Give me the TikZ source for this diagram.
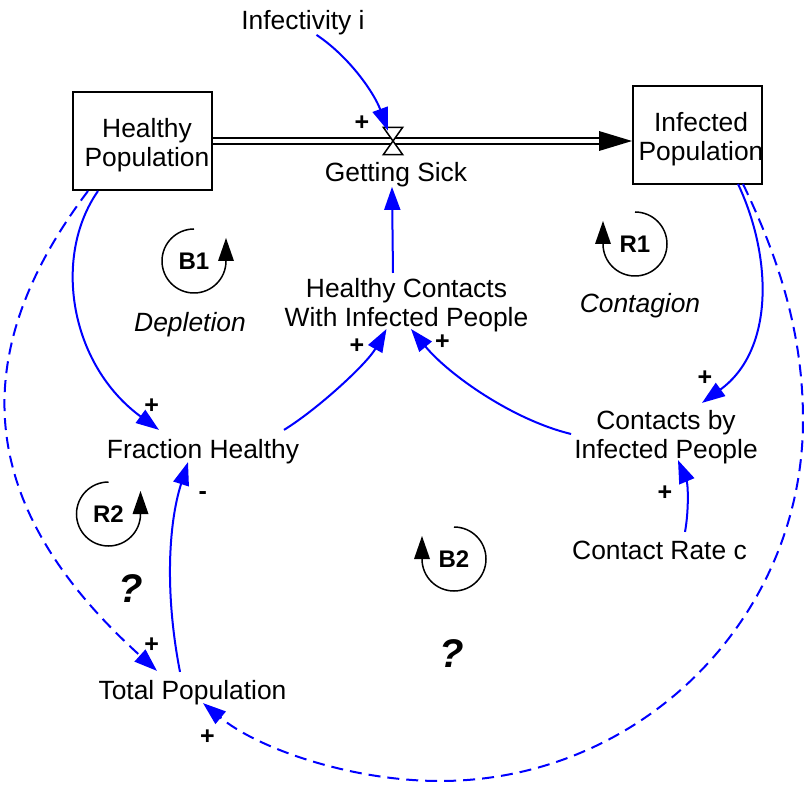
\documentclass[tikz,border=0pt]{standalone}
\usepackage{fontspec}
\setmainfont{Liberation Sans}
\usetikzlibrary{arrows.meta}

% loop marker turning counter-clockwise, arrow on the right side
\newcommand{\loopmarkccw}[1]{%
  \draw[loopline] ([yshift=32pt]#1.center) arc[start angle=90,end angle=360,radius=32pt];
  \fill ([xshift=24pt]#1.center) -- ([xshift=32pt,yshift=23pt]#1.center) -- ([xshift=40pt]#1.center) -- cycle;}
% loop marker turning clockwise, arrow on the left side
\newcommand{\loopmarkcw}[1]{%
  \draw[loopline] ([yshift=32pt]#1.center) arc[start angle=90,end angle=-180,radius=32pt];
  \fill ([xshift=-40pt]#1.center) -- ([xshift=-32pt,yshift=23pt]#1.center) -- ([xshift=-24pt]#1.center) -- cycle;}

\begin{document}
\begin{tikzpicture}[x=1pt,y=1pt,
  every node/.style={inner sep=0pt},
  var/.style={font=\fontsize{26.4}{29}\selectfont, align=center},
  onel/.style={var, text height=19.3pt, text depth=5.5pt},
  stock/.style={draw, line width=2pt},
  link/.style={draw=blue, line width=2pt, -{Triangle[length=23pt,width=16pt]}},
  dashedlink/.style={link, dash pattern=on 12pt off 7pt},
  polarity/.style={font=\fontsize{25}{28}\selectfont\bfseries},
  looplabel/.style={font=\fontsize{24}{26}\selectfont\bfseries},
  loopline/.style={draw=black, line width=1.5pt},
  loopname/.style={font=\fontsize{26.4}{29}\selectfont\itshape, text height=19.3pt, text depth=5.5pt},
  query/.style={font=\fontsize{40}{44}\selectfont\bfseries\itshape},
  pipe/.style={double, line width=2pt, double distance=4.3pt},
  valveline/.style={draw=black, line width=1.5pt, fill=white},
]
\useasboundingbox (0,0) rectangle (804,-786);

% stocks
\node[stock, minimum width=139pt, minimum height=98pt] (hp) at (142.5,-141) {};
\node[var] (hptext) at ([shift={(4.5,-4)}]hp.center) {Healthy\\Population};
\node[stock, minimum width=129pt, minimum height=98pt] (ip) at (697.5,-135) {};
\node[var] (iptext) at ([shift={(3.5,-4)}]ip.center) {Infected\\Population};

% flow valve and variables
\node[minimum width=19pt, minimum height=27pt] (v) at (393,-141) {};
\node[onel] (inf) at (303,-22.3) {Infectivity i};
\node[onel] (gs) at (396,-174.3) {Getting Sick};
\node[var] (hc) at (406.5,-305) {Healthy Contacts\\With Infected People};
\node[onel] (fh) at (203,-451.5) {Fraction Healthy};
\node[var] (cip) at (666,-437.5) {Contacts by\\Infected People};
\node[onel] (crc) at (659.5,-552.5) {Contact Rate c};
\node[onel] (tp) at (192.5,-692.5) {Total Population};

% flow pipe with its head and the valve
\coordinate (pipeend) at (hp.east -| ip.west);
\draw[pipe] (hp.east) -- ([xshift=-32pt]pipeend);
\fill ([xshift=-33pt,yshift=10pt]pipeend) -- (pipeend) -- ([xshift=-33pt,yshift=-10pt]pipeend) -- cycle;
\draw[valveline] (v.north west) -- (v.north east) -- (v.south west) -- (v.south east) -- cycle;

% causal links
\draw[link] ([xshift=13.5pt]inf.south) .. controls +(33,-22) and +(-13.7,37.6) .. ([shift={(-5,-3.5)}]v.north);
\draw[link] ([shift={(-13.5,5)}]hc.north) -- ([xshift=-4pt]gs.south);
\draw[link] ([shift={(81,9)}]fh.north) .. controls +(34,21) and +(-19.6,-34.8) .. ([shift={(-20,3)}]hc.south);
\draw[link] ([shift={(-3,3.5)}]cip.west) .. controls +(-58,14) and +(38,-46) .. ([shift={(4.5,3)}]hc.south);
\draw[link] ([shift={(25.5,8)}]crc.north) .. controls +(4,22) and +(10,-24) .. ([shift={(12,4.4)}]cip.south);
\draw[link] ([shift={(40.5,1)}]ip.south) .. controls +(34,-72) and +(73,53) .. ([shift={(36,7.6)}]cip.north);
\draw[link] ([xshift=-44.5pt]hp.south) .. controls +(-46,-66) and +(-89,65) .. ([shift={(-44,9)}]fh.north);
\draw[link] ([shift={(-12.5,8)}]tp.north) .. controls +(-15,77) and +(-20,-63) .. ([shift={(-15,2)}]fh.south);
\draw[dashedlink] ([xshift=-54.5pt]hp.south) .. controls +(-136,-180) and +(-166,150) .. ([shift={(-35.5,9)}]tp.north);
\draw[dashedlink] ([shift={(45.5,1)}]ip.south) .. controls (777,-255) and (803,-330) .. (803,-420)
   .. controls (803,-619) and (640,-781) .. (440,-781)
   .. controls (350,-781) and (257,-748) .. ([shift={(10.5,2)}]tp.south);

% link polarities
\node[polarity] (p1) at (362,-123.5) {+};
\node[polarity] (p2) at (357,-346.5) {+};
\node[polarity] (p3) at (442.5,-342.5) {+};
\node[polarity] (p4) at (151.7,-406.5) {+};
\node[polarity] (p5) at (705,-378.2) {+};
\node[polarity] (p6) at (665,-493.2) {+};
\node[polarity] (m1) at (202.7,-495.8) {-};
\node[polarity] (p7) at (151.7,-644.8) {+};
\node[polarity] (p8) at (207.3,-737.5) {+};

% feedback loop markers
\node[looplabel] (b1) at (194,-261) {B1};
\node[looplabel] (r1) at (635,-244) {R1};
\node[looplabel] (r2) at (108.5,-514) {R2};
\node[looplabel] (b2) at (454,-559) {B2};
\loopmarkccw{b1}
\loopmarkcw{r1}
\loopmarkccw{r2}
\loopmarkcw{b2}
\node[loopname] (dep) at (190,-325) {Depletion};
\node[loopname] (con) at (640,-306) {Contagion};
\node[query] (q1) at (131,-589) {?};
\node[query] (q2) at (452,-654) {?};
\end{tikzpicture}
\end{document}
